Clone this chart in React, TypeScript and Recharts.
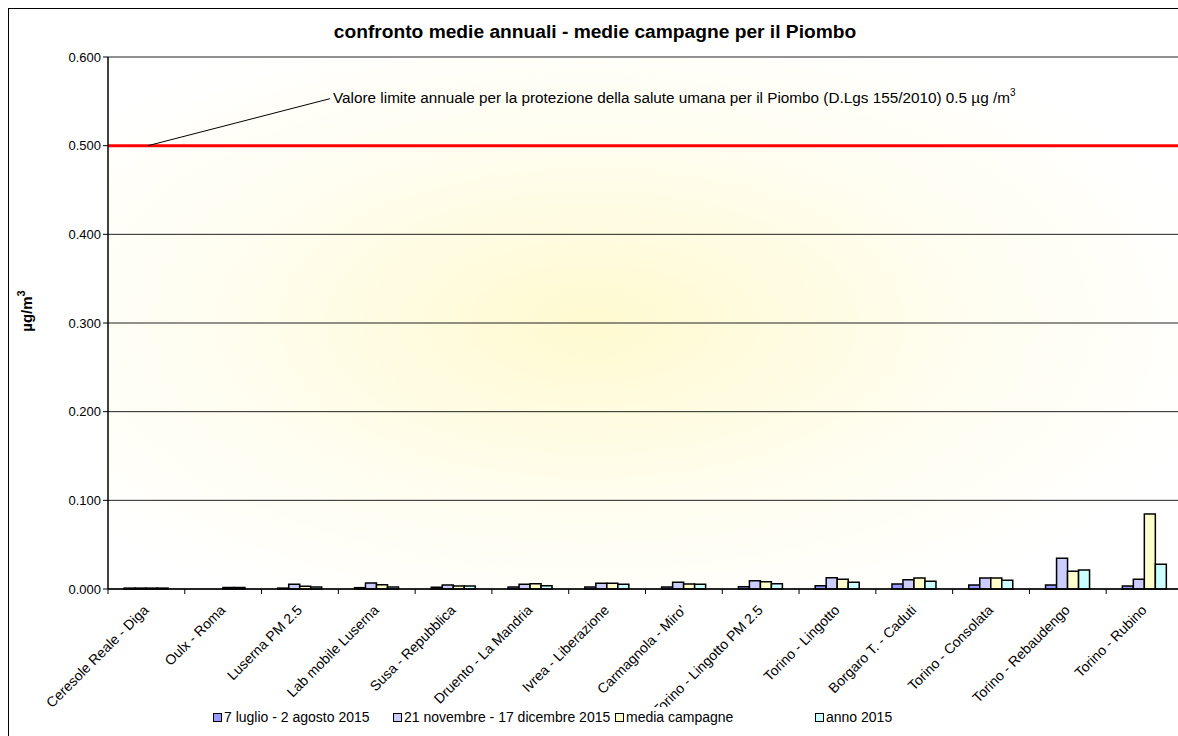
import React from "react";
import {
  BarChart,
  Bar,
  XAxis,
  YAxis,
  CartesianGrid,
  ReferenceLine,
  Legend,
  Label,
} from "recharts";

const categories = [
  "Ceresole Reale - Diga",
  "Oulx - Roma",
  "Luserna PM 2.5",
  "Lab mobile Luserna",
  "Susa - Repubblica",
  "Druento - La Mandria",
  "Ivrea - Liberazione",
  "Carmagnola - Miro'",
  "Torino - Lingotto PM 2.5",
  "Torino - Lingotto",
  "Borgaro T. - Caduti",
  "Torino - Consolata",
  "Torino - Rebaudengo",
  "Torino - Rubino",
];

const luglio = [0.001, null, 0.001, 0.0015, 0.002, 0.0023, 0.0023, 0.0023, 0.0026, 0.0038, 0.0056, 0.0045, 0.0045, 0.0034];
const novembre = [0.001, null, 0.0053, 0.0068, 0.0045, 0.0053, 0.0064, 0.0075, 0.0094, 0.0128, 0.0105, 0.0124, 0.0346, 0.0109];
const mediaCampagne = [0.001, 0.0018, 0.003, 0.0049, 0.0034, 0.006, 0.0064, 0.0056, 0.0083, 0.0109, 0.0124, 0.0124, 0.02, 0.0846];
const anno2015 = [0.001, 0.0018, 0.0023, 0.0023, 0.0034, 0.0038, 0.0053, 0.0053, 0.006, 0.0075, 0.0087, 0.0098, 0.0214, 0.0279];

const yTicks = [0, 0.1, 0.2, 0.3, 0.4, 0.5, 0.6];
const LIMIT = 0.5;

const seriesNames = [
  "7 luglio - 2 agosto 2015",
  "21 novembre - 17 dicembre 2015",
  "media campagne",
  "anno 2015",
];
const seriesColors = ["#9999FF", "#CCCCFF", "#FFFFCC", "#CCFFFF"];

const data = categories.map((name, i) => ({
  name,
  luglio: luglio[i],
  novembre: novembre[i],
  media: mediaCampagne[i],
  anno: anno2015[i],
}));

const FONT = "'Liberation Sans', Arial, sans-serif";

const CHART_W = 1200;
const CHART_H = 730;
const MARGIN = { top: 48, right: 26, left: 39, bottom: 20 };
const Y_AXIS_W = 60;
const HALF_BAND = (CHART_W - MARGIN.left - MARGIN.right - Y_AXIS_W) / categories.length / 2;

const CategoryTick = (props: any) => {
  const { x, y, payload } = props;
  const ax = x + 3;
  const ay = y + 14;
  return (
    <g>
      <line x1={x - HALF_BAND} y1={y - 8} x2={x - HALF_BAND} y2={y - 3} stroke="#000" />
      <text
        x={ax}
        y={ay}
        textAnchor="end"
        fontSize={14}
        fontFamily={FONT}
        fill="#000"
        transform={`rotate(-45, ${ax}, ${ay})`}
      >
        {payload.value}
      </text>
    </g>
  );
};

const LimitLabel = (props: any) => {
  const { viewBox } = props;
  const x0 = viewBox.x;
  const y0 = viewBox.y;
  return (
    <g>
      <line x1={x0 + 40} y1={y0} x2={x0 + 222} y2={y0 - 47} stroke="#000" strokeWidth={1} />
      <text x={x0 + 225} y={y0 - 43} fontSize={15.3} fontFamily={FONT} fill="#000">
        Valore limite annuale per la protezione della salute umana per il Piombo  (D.Lgs 155/2010) 0.5 µg /m
        <tspan dy={-7} fontSize={10}>3</tspan>
      </text>
    </g>
  );
};

const YLabel = (props: any) => {
  const { viewBox } = props;
  const cx = 23;
  const cy = viewBox.y + viewBox.height / 2 - 12;
  return (
    <text
      x={cx}
      y={cy}
      textAnchor="middle"
      fontSize={15}
      fontWeight="bold"
      fontFamily={FONT}
      fill="#000"
      transform={`rotate(-90, ${cx}, ${cy})`}
    >
      µg/m<tspan dy={-7} fontSize={11}>3</tspan>
    </text>
  );
};

const legendLefts = [204, 384, 606, 806];

const LegendContent = () => (
  <div style={{ position: "relative", height: 20, width: CHART_W }}>
    <div
      style={{
        position: "absolute",
        left: 196,
        top: -2,
        width: 720,
        height: 22,
        background: "#fff",
      }}
    />
    {seriesNames.map((n, i) => (
      <div
        key={n}
        style={{
          position: "absolute",
          left: legendLefts[i],
          top: 0,
          display: "flex",
          alignItems: "center",
          fontFamily: FONT,
          fontSize: 14,
          color: "#000",
          whiteSpace: "nowrap",
        }}
      >
        <span
          style={{
            display: "inline-block",
            width: 7,
            height: 7,
            background: seriesColors[i],
            border: "1px solid #000",
            marginRight: 2,
          }}
        />
        {n}
      </div>
    ))}
  </div>
);

export default function App() {
  return (
    <div
      style={{
        marginLeft: 8,
        marginTop: 8,
        width: 1170,
        height: 728,
        borderLeft: "1px solid #000",
        borderTop: "1px solid #000",
        overflow: "hidden",
        background: "#fff",
      }}
    >
      <style>{"body{margin:0;overflow:hidden;}"}</style>
      <BarChart
        width={CHART_W}
        height={CHART_H}
        data={data}
        margin={MARGIN}
        barCategoryGap="21%"
        barGap={0}
      >
        <defs>
          <radialGradient id="plotBg" cx="0.45" cy="0.5" r="0.6">
            <stop offset="0%" stopColor="#FFFAD0" />
            <stop offset="55%" stopColor="#FFFDEE" />
            <stop offset="100%" stopColor="#FFFFFF" />
          </radialGradient>
        </defs>
        <text
          x={586}
          y={29}
          textAnchor="middle"
          fontSize={19.2}
          fontWeight="bold"
          fontFamily={FONT}
          fill="#000"
        >
          confronto medie annuali - medie campagne per il Piombo
        </text>
        <CartesianGrid
          vertical={false}
          stroke="#222"
          fill="url(#plotBg)"
          fillOpacity={1}
        />
        <XAxis
          dataKey="name"
          interval={0}
          height={110}
          tickLine={false}
          axisLine={{ stroke: "#000", strokeWidth: 1.5 }}
          tick={<CategoryTick />}
        />
        <YAxis
          width={Y_AXIS_W}
          domain={[0, 0.6]}
          ticks={yTicks}
          tickFormatter={(v: number) => v.toFixed(3)}
          tick={{ fontSize: 13, fill: "#000", fontFamily: FONT }}
          tickLine={{ stroke: "#000" }}
          tickSize={5}
          axisLine={{ stroke: "#000", strokeWidth: 1.5 }}
        >
          <Label content={<YLabel />} />
        </YAxis>
        <ReferenceLine y={LIMIT} stroke="#FF0000" strokeWidth={3} label={<LimitLabel />} />
        <Legend
          verticalAlign="bottom"
          wrapperStyle={{ left: 0, top: 700, width: CHART_W }}
          content={<LegendContent />}
        />
        <Bar dataKey="luglio" name={seriesNames[0]} fill={seriesColors[0]} stroke="#000" strokeWidth={1.5} isAnimationActive={false} />
        <Bar dataKey="novembre" name={seriesNames[1]} fill={seriesColors[1]} stroke="#000" strokeWidth={1.5} isAnimationActive={false} />
        <Bar dataKey="media" name={seriesNames[2]} fill={seriesColors[2]} stroke="#000" strokeWidth={1.5} isAnimationActive={false} />
        <Bar dataKey="anno" name={seriesNames[3]} fill={seriesColors[3]} stroke="#000" strokeWidth={1.5} isAnimationActive={false} />
      </BarChart>
    </div>
  );
}
